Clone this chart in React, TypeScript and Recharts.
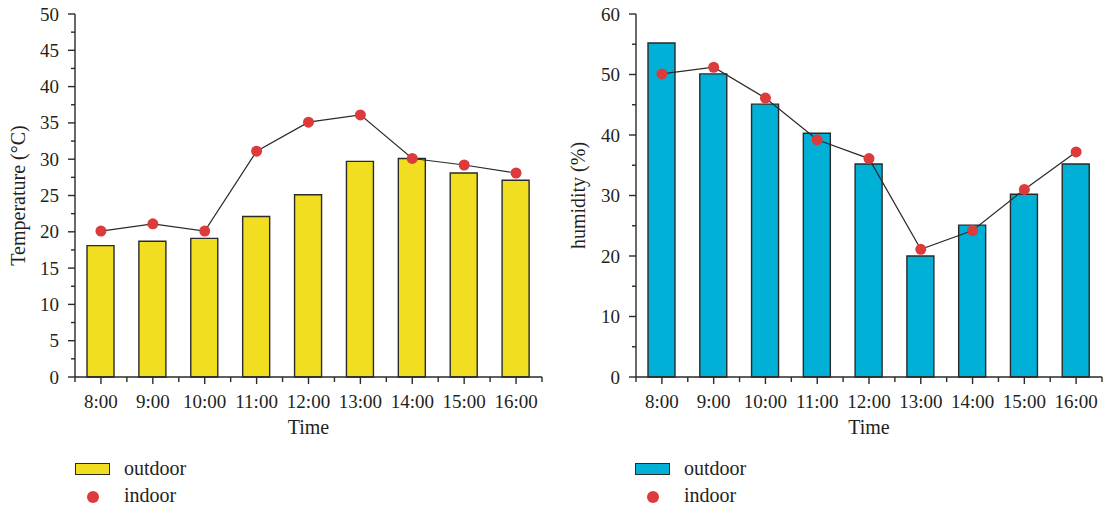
import { ComposedChart, Bar, Line, XAxis, YAxis, Legend, Label } from 'recharts';

const times = ['8:00', '9:00', '10:00', '11:00', '12:00', '13:00', '14:00', '15:00', '16:00'];

const tempOutdoor = [18.1, 18.7, 19.1, 22.1, 25.1, 29.7, 30.1, 28.1, 27.1];
const tempIndoor = [20.1, 21.1, 20.1, 31.1, 35.1, 36.1, 30.1, 29.2, 28.1];
const tempTicks = [0, 2.5, 5, 7.5, 10, 12.5, 15, 17.5, 20, 22.5, 25, 27.5, 30, 32.5, 35, 37.5, 40, 42.5, 45, 47.5, 50];

const humOutdoor = [55.2, 50.1, 45.1, 40.3, 35.2, 20.0, 25.1, 30.2, 35.2];
const humIndoor = [50.1, 51.2, 46.1, 39.2, 36.1, 21.1, 24.2, 31.0, 37.2];
const humTicks = [0, 5, 10, 15, 20, 25, 30, 35, 40, 45, 50, 55, 60];

const FONT = '"Liberation Serif", "DejaVu Serif", serif';
const INK = '#231f20';
const AXIS = '#2a2a2a';
const DOT = '#dd3b3b';
const Y_GAP = 16;
const X_GAP = 18;

// minor ticks at band edges (integers), labels at band centres (x.5)
const xTicks = times.flatMap((_, i) => [i, i + 0.5]).concat(times.length);

const YTick = ({ x, y, payload, major }: any) => {
  const ax = x + Y_GAP;
  const v = payload.value;
  const isMajor = Math.abs(v / major - Math.round(v / major)) < 1e-6;
  return (
    <g>
      <line x1={ax - (isMajor ? 7 : 4)} x2={ax} y1={y} y2={y} stroke={AXIS} strokeWidth={1.4} />
      {isMajor && (
        <text x={x} y={y} textAnchor="end" dominantBaseline="central" fill={INK} fontSize={19} fontFamily={FONT}>
          {v}
        </text>
      )}
    </g>
  );
};

const XTick = ({ x, y, payload }: any) => {
  const ay = y - X_GAP;
  const v = payload.value;
  const isLabel = v % 1 !== 0;
  return (
    <g>
      <line x1={x} x2={x} y1={ay} y2={ay + (isLabel ? 7 : 5)} stroke={AXIS} strokeWidth={1.4} />
      {isLabel && (
        <text x={x} y={y} dy="0.71em" textAnchor="middle" fill={INK} fontSize={19} fontFamily={FONT}>
          {times[Math.floor(v)]}
        </text>
      )}
    </g>
  );
};

const YTitle = ({ text }: { text: string }) => (props: any) => {
  const { y, height } = props.viewBox;
  const cx = 18;
  const cy = y + height / 2;
  return (
    <text
      x={cx}
      y={cy}
      transform={`rotate(-90 ${cx} ${cy})`}
      textAnchor="middle"
      dominantBaseline="central"
      fill={INK}
      fontSize={20}
      fontFamily={FONT}
    >
      {text}
    </text>
  );
};

const legendContent = (color: string) => () => (
  <div style={{ fontFamily: FONT, fontSize: 20, color: INK, lineHeight: '27px' }}>
    <div style={{ display: 'flex', alignItems: 'center' }}>
      <span
        style={{
          display: 'inline-block',
          width: 35,
          height: 12,
          boxSizing: 'border-box',
          background: color,
          border: `1.4px solid ${AXIS}`,
          marginRight: 14,
        }}
      />
      outdoor
    </div>
    <div style={{ display: 'flex', alignItems: 'center' }}>
      <span style={{ display: 'inline-block', width: 35, marginRight: 14, textAlign: 'center' }}>
        <span
          style={{ display: 'inline-block', width: 12, height: 12, borderRadius: 6, background: DOT, verticalAlign: 'middle' }}
        />
      </span>
      indoor
    </div>
  </div>
);

interface PanelProps {
  outdoor: number[];
  indoor: number[];
  ticks: number[];
  major: number;
  max: number;
  color: string;
  title: string;
  width: number;
  axisWidth: number;
  right: number;
}

const Panel = ({ outdoor, indoor, ticks, major, max, color, title, width, axisWidth, right }: PanelProps) => {
  const data = times.map((t, i) => ({ time: t, pos: i + 0.5, outdoor: outdoor[i], indoor: indoor[i] }));
  return (
    <ComposedChart width={width} height={509} data={data} margin={{ top: 14, right, bottom: 69, left: 0 }}>
      <XAxis
        xAxisId="top"
        orientation="top"
        type="number"
        dataKey="pos"
        domain={[0, times.length]}
        height={0}
        tick={false}
        tickLine={false}
        axisLine={{ stroke: AXIS, strokeWidth: 1.4 }}
      />
      <YAxis
        yAxisId="right"
        orientation="right"
        domain={[0, max]}
        width={0}
        tick={false}
        tickLine={false}
        axisLine={{ stroke: AXIS, strokeWidth: 1.4 }}
      />
      <XAxis
        type="number"
        dataKey="pos"
        domain={[0, times.length]}
        ticks={xTicks}
        interval={0}
        height={63}
        tickSize={0}
        tickMargin={X_GAP}
        tickLine={false}
        tick={<XTick />}
        axisLine={{ stroke: AXIS, strokeWidth: 1.4 }}
      >
        <Label value="Time" position="insideTop" offset={43} fill={INK} fontSize={20} fontFamily={FONT} />
      </XAxis>
      <YAxis
        domain={[0, max]}
        ticks={ticks}
        interval={0}
        width={axisWidth}
        tickSize={0}
        tickMargin={Y_GAP}
        tickLine={false}
        tick={<YTick major={major} />}
        axisLine={{ stroke: AXIS, strokeWidth: 1.4 }}
      >
        <Label content={YTitle({ text: title })} />
      </YAxis>
      <Legend
        layout="vertical"
        align="center"
        verticalAlign="middle"
        content={legendContent(color)}
        wrapperStyle={{ left: 75, top: 455, width: 220, height: 54 }}
      />
      <Bar dataKey="outdoor" barSize={27} fill={color} stroke={AXIS} strokeWidth={1.4} isAnimationActive={false} />
      <Line
        dataKey="indoor"
        stroke={AXIS}
        strokeWidth={1.2}
        dot={{ r: 5.5, fill: DOT, stroke: 'none' }}
        activeDot={false}
        isAnimationActive={false}
      />
    </ComposedChart>
  );
};

export default function App() {
  return (
    <div style={{ position: 'absolute', left: 0, top: 0, width: 1105, height: 509, background: '#fff' }}>
      <div style={{ position: 'absolute', left: 0, top: 0 }}>
        <Panel
          outdoor={tempOutdoor}
          indoor={tempIndoor}
          ticks={tempTicks}
          major={5}
          max={50}
          color="#f2de20"
          title="Temperature (°C)"
          width={560}
          axisWidth={75}
          right={18}
        />
      </div>
      <div style={{ position: 'absolute', left: 560, top: 0 }}>
        <Panel
          outdoor={humOutdoor}
          indoor={humIndoor}
          ticks={humTicks}
          major={10}
          max={60}
          color="#00b0d6"
          title="humidity (%)"
          width={545}
          axisWidth={76}
          right={3}
        />
      </div>
    </div>
  );
}
